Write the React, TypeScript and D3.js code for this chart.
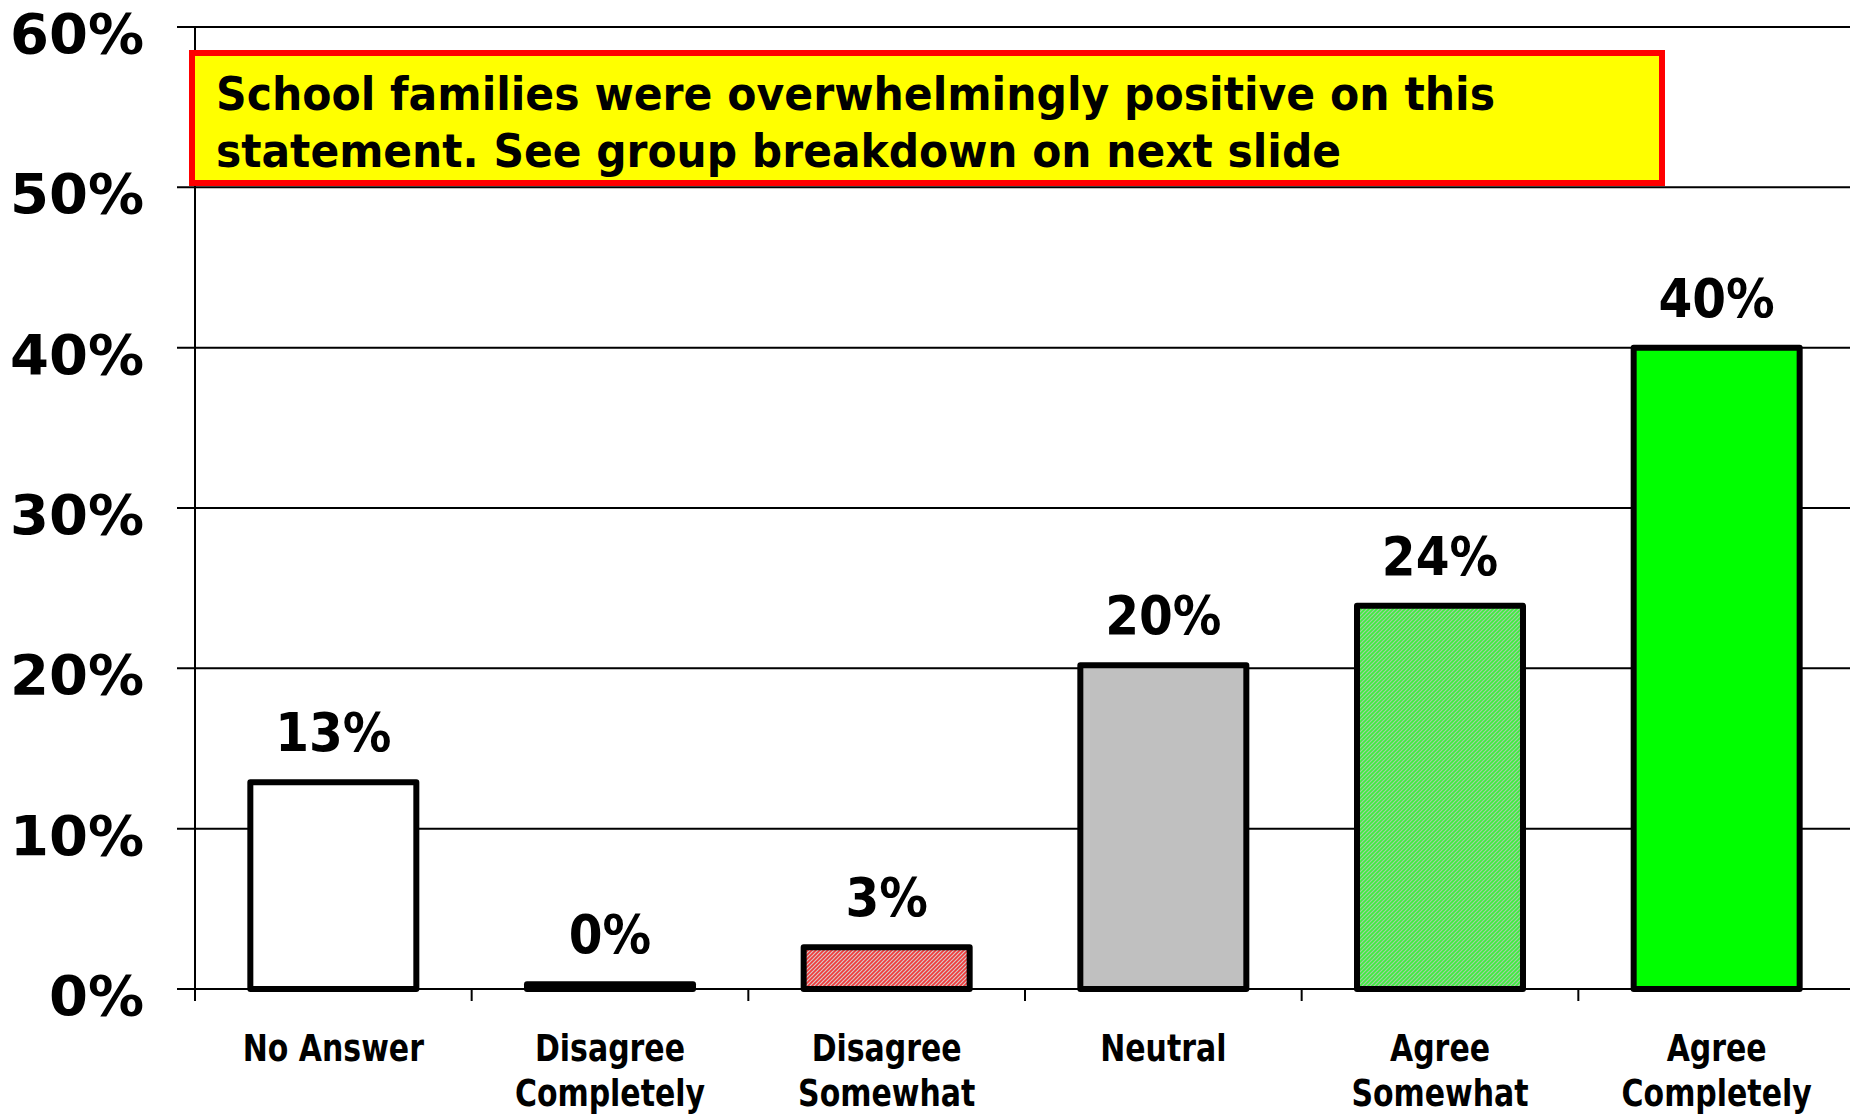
import React from "react";
import * as d3 from "d3";

const categories = [
  ["No Answer"],
  ["Disagree", "Completely"],
  ["Disagree", "Somewhat"],
  ["Neutral"],
  ["Agree", "Somewhat"],
  ["Agree", "Completely"],
];
const values = [12.9, 0.3, 2.6, 20.2, 23.9, 40.0];
const valueLabels = ["13%", "0%", "3%", "20%", "24%", "40%"];
const fills = ["#FFFFFF", "#000000", "url(#hatchRed)", "#C0C0C0", "url(#hatchGreen)", "#00FF00"];
const yTicks = [0, 10, 20, 30, 40, 50, 60];
const noteLines = [
  "School families were overwhelmingly positive on this",
  "statement. See group breakdown on next slide",
];

const W = 1850;
const H = 1116;
const left = 195;
const right = 1855;
const top = 27;
const bottom = 989;

export default function App() {
  const x = d3
    .scaleBand<number>()
    .domain(d3.range(categories.length))
    .range([left, right])
    .paddingInner(0.4)
    .paddingOuter(0.2);
  const y = d3.scaleLinear().domain([0, 60]).range([bottom, top]);
  const step = x.step();

  return (
    <svg
      width={W}
      height={H}
      style={{ position: "absolute", left: 0, top: 0, background: "#fff" }}
    >
      <defs>
        <pattern id="hatchRed" width="4" height="4" patternUnits="userSpaceOnUse">
          <rect width="4" height="4" fill="#F03A3A" />
          <path d="M-1,1 l2,-2 M0,4 l4,-4 M3,5 l2,-2" stroke="#D8C8C8" strokeWidth="1.2" />
        </pattern>
        <pattern id="hatchGreen" width="4" height="4" patternUnits="userSpaceOnUse">
          <rect width="4" height="4" fill="#3CF03C" />
          <path d="M-1,1 l2,-2 M0,4 l4,-4 M3,5 l2,-2" stroke="#A8C8A8" strokeWidth="1.2" />
        </pattern>
      </defs>

      {/* gridlines */}
      {yTicks.map((t) => (
        <line
          key={"g" + t}
          x1={left - 18}
          x2={W}
          y1={y(t)}
          y2={y(t)}
          stroke="#000"
          strokeWidth={2}
        />
      ))}
      {/* y axis */}
      <line x1={left} x2={left} y1={top} y2={bottom + 12} stroke="#000" strokeWidth={2} />
      {/* x ticks */}
      {d3.range(categories.length + 1).map((i) => (
        <line
          key={"xt" + i}
          x1={left + i * step}
          x2={left + i * step}
          y1={bottom}
          y2={bottom + 12}
          stroke="#000"
          strokeWidth={2}
        />
      ))}
      {/* y tick labels */}
      {yTicks.map((t) => (
        <text
          key={"yl" + t}
          x={144}
          y={y(t) + 26}
          textAnchor="end"
          fontFamily="DejaVu Sans"
          fontWeight="bold"
          fontSize={56}
          fill="#000"
        >
          {t + "%"}
        </text>
      ))}

      {/* bars */}
      {values.map((v, i) => (
        <rect
          key={"b" + i}
          x={x(i)!}
          y={y(v)}
          width={x.bandwidth()}
          height={bottom - y(v)}
          fill={fills[i]}
          stroke="#000"
          strokeWidth={6}
          strokeLinejoin="round"
        />
      ))}
      {/* value labels */}
      {values.map((v, i) => (
        <text
          key={"v" + i}
          x={x(i)! + x.bandwidth() / 2}
          y={y(v) - 31}
          textAnchor="middle"
          fontFamily="DejaVu Sans Condensed, DejaVu Sans"
          fontWeight="bold"
          fontSize={54}
          fill="#000"
        >
          {valueLabels[i]}
        </text>
      ))}
      {/* category labels */}
      {categories.map((lines, i) =>
        lines.map((ln, j) => (
          <text
            key={"c" + i + "-" + j}
            transform={`translate(${x(i)! + x.bandwidth() / 2},${1061 + j * 45}) scale(0.9,1)`}
            textAnchor="middle"
            fontFamily="DejaVu Sans Condensed, DejaVu Sans"
            fontWeight="bold"
            fontSize={37}
            fill="#000"
          >
            {ln}
          </text>
        ))
      )}

      {/* annotation */}
      <rect x={192} y={53} width={1470} height={130} fill="#FFFF00" stroke="#FF0000" strokeWidth={6} />
      {noteLines.map((ln, j) => (
        <text
          key={"n" + j}
          x={216}
          y={110 + j * 57}
          fontFamily="DejaVu Sans Condensed, DejaVu Sans"
          fontWeight="bold"
          fontSize={46}
          fill="#000"
          textLength={j === 0 ? 1279 : 1125}
          lengthAdjust="spacingAndGlyphs"
        >
          {ln}
        </text>
      ))}
    </svg>
  );
}
